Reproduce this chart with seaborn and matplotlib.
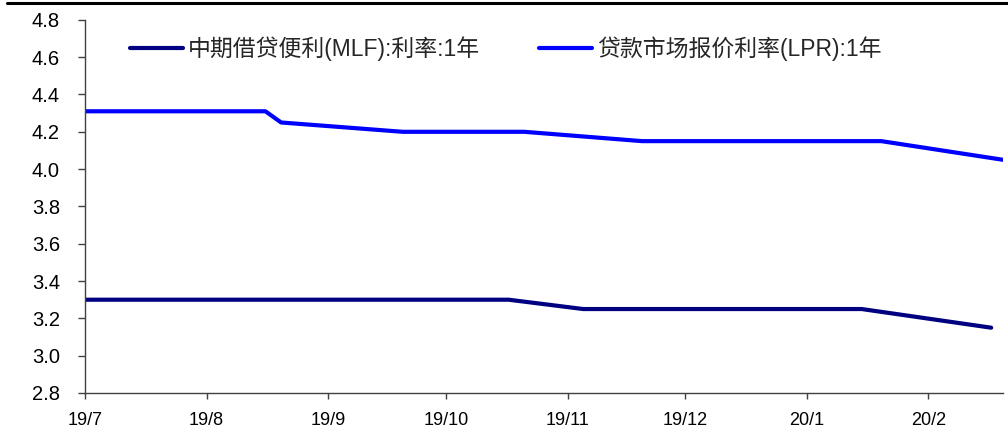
import pandas as pd
import matplotlib
matplotlib.use("Agg")
import matplotlib.pyplot as plt
import matplotlib.dates as mdates
from matplotlib.lines import Line2D
import seaborn as sns

# 中期借贷便利(MLF):利率:1年
mlf_dates = ["2019-07-01", "2019-08-16", "2019-09-17", "2019-10-17",
             "2019-11-05", "2019-12-16", "2020-01-15", "2020-02-17"]
mlf_values = [3.30, 3.30, 3.30, 3.30, 3.25, 3.25, 3.25, 3.15]

# 贷款市场报价利率(LPR):1年
lpr_dates = ["2019-07-01", "2019-08-16", "2019-08-20", "2019-09-20", "2019-10-21",
             "2019-11-20", "2019-12-20", "2020-01-20", "2020-02-20"]
lpr_values = [4.31, 4.31, 4.25, 4.20, 4.20, 4.15, 4.15, 4.15, 4.05]

mlf_label = "中期借贷便利(MLF):利率:1年"
lpr_label = "贷款市场报价利率(LPR):1年"

sns.set_style("ticks")
plt.rcParams["font.family"] = ["Liberation Sans", "Noto Sans CJK SC", "DejaVu Sans"]
plt.rcParams.update({
    "xtick.major.pad": 10, "ytick.major.pad": 13,
    "xtick.labelsize": 13, "ytick.labelsize": 14.5,
    "xtick.major.size": 4, "ytick.major.size": 5,
    "xtick.major.width": 1, "ytick.major.width": 1,
    "xtick.direction": "out", "ytick.direction": "out",
    "xtick.color": "#404040", "ytick.color": "#404040",
    "xtick.labelcolor": "black", "ytick.labelcolor": "black",
})

mlf_df = pd.DataFrame({"date": pd.to_datetime(mlf_dates), "value": mlf_values})
lpr_df = pd.DataFrame({"date": pd.to_datetime(lpr_dates), "value": lpr_values})

fig = plt.figure(figsize=(10.08, 4.32), dpi=100)
ax = fig.add_axes([0.0843, 0.0903, 0.9107, 0.8637])

sns.lineplot(data=mlf_df, x="date", y="value", ax=ax, color="#000080",
             linewidth=3.0, label=mlf_label, solid_capstyle="round")
sns.lineplot(data=lpr_df, x="date", y="value", ax=ax, color="#0000FF",
             linewidth=3.0, label=lpr_label, solid_capstyle="round")

ax.set_xlim(pd.Timestamp("2019-07-01"), pd.Timestamp("2020-02-20"))
ax.set_ylim(2.8, 4.8)
ax.set_yticks([2.8 + 0.2 * i for i in range(11)])
ax.yaxis.set_major_formatter(plt.FuncFormatter(lambda v, p: f"{v:.1f}"))
ax.xaxis.set_major_locator(mdates.MonthLocator())
ax.xaxis.set_major_formatter(plt.FuncFormatter(
    lambda v, p: f"{mdates.num2date(v).year % 100}/{mdates.num2date(v).month}"))
ax.set_xlabel("")
ax.set_ylabel("")

for side in ["top", "right"]:
    ax.spines[side].set_visible(False)
for side in ["left", "bottom"]:
    ax.spines[side].set_color("#404040")
    ax.spines[side].set_linewidth(1.0)

leg = ax.legend(loc="center left", bbox_to_anchor=(0.039, 0.922), borderaxespad=0,
                ncol=2, frameon=False, fontsize=16.5, handlelength=2.3,
                handletextpad=0.22, columnspacing=2.6)

# black rule at the very top of the figure
fig.add_artist(Line2D([0.007, 1.0], [0.994, 0.994], color="black", linewidth=2.2,
                      transform=fig.transFigure))

fig.savefig("out.png", dpi=100)
